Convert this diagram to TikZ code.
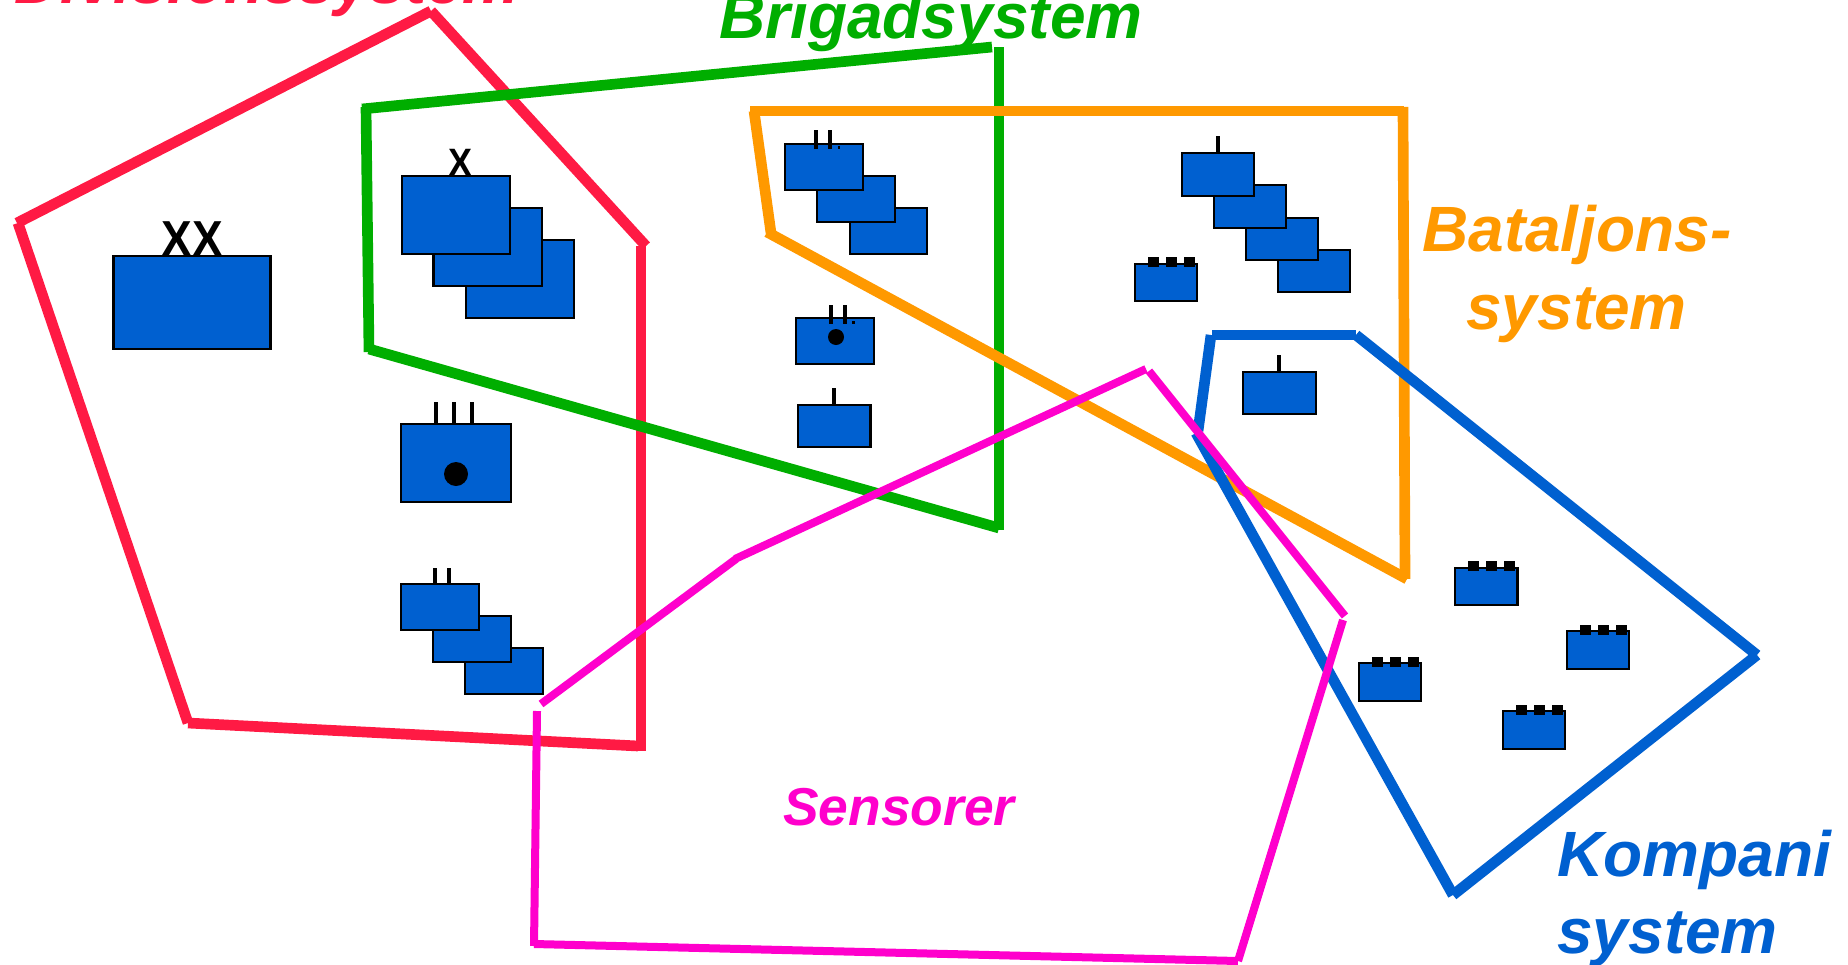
\documentclass[tikz,border=0pt]{standalone}
\usepackage{fontspec}
\setmainfont{Liberation Sans}
\definecolor{cred}{RGB}{255,26,68}
\definecolor{cgreen}{RGB}{0,174,0}
\definecolor{corange}{RGB}{255,153,0}
\definecolor{cblue}{RGB}{0,96,208}
\definecolor{cmag}{RGB}{255,0,204}
\tikzset{
  redline/.style={draw=cred,line width=8pt},
  greenline/.style={draw=cgreen,line width=8pt},
  orangeline/.style={draw=corange,line width=8pt},
  blueline/.style={draw=cblue,line width=8pt},
  magline/.style={draw=cmag,line width=6pt},
  unitbox/.style={draw=black,fill=cblue,line width=2pt},
  tick/.style={draw=black,line width=3.3pt},
  thintick/.style={draw=black,line width=2.8pt},
  notch/.style={fill=black},
  title/.style={anchor=base west,inner sep=0pt,font=\fontsize{48}{50}\selectfont\bfseries\itshape},
  rank/.style={anchor=base,inner sep=0pt,text=black},
}
\newcommand{\ubox}[4]{\path[unitbox] (#1,#2) rectangle (#3,#4);}
\newcommand{\usq}[2]{\path[notch] (#1-5.5,#2) rectangle (#1+5.5,#2+10);}
\begin{document}
\begin{tikzpicture}[x=0.75pt,y=-0.75pt]
\useasboundingbox (0,0) rectangle (1848,964);
\clip (0,0) rectangle (1848,964);
\fill[white] (0,0) rectangle (1848,964);
% titles
\node[title,text=cred] (tdiv) at (14,3) {Divisionssystem};
\node[title,text=cgreen] (tbri) at (719,38) {Brigadsystem};
\node[title,text=corange] (tbat1) at (1422,251) {Bataljons-};
\node[title,text=corange] (tbat2) at (1466,329) {system};
\node[title,text=cmag,font=\fontsize{40}{42}\selectfont\bfseries\itshape] (tsen) at (783,825) {Sensorer};
\node[title,text=cblue] (tkom1) at (1557,876) {Kompani};
\node[title,text=cblue] (tkom2) at (1557,953) {system};
\begin{scope}[yshift=-0.75pt]
% red
\draw[redline] (17,222) -- (431,10);
\draw[redline] (431,10) -- (646,245);
\draw[redline] (641,245) -- (641,750);
\draw[redline] (638,745) -- (188,722);
\draw[redline] (188,722) -- (18,222);
% green
\draw[greenline] (362,108) -- (992,46);
\draw[greenline] (999,46) -- (999,529);
\draw[greenline] (999,527) -- (369,348);
\draw[greenline] (369,351) -- (366,106);
% orange
\draw[orangeline] (750,110) -- (1404,110);
\draw[orangeline] (1403,106) -- (1405,578);
\draw[orangeline] (1407,578) -- (767,231);
\draw[orangeline] (771,232) -- (754,110);
% blue
\draw[blueline] (1212,334) -- (1356,334);
\draw[blueline] (1356,334) -- (1757,654);
\draw[blueline] (1757,654) -- (1453,894);
\draw[blueline] (1453,894) -- (1196,432);
\draw[blueline] (1198,430) -- (1211,334);
% magenta
\draw[magline] (541,703) -- (736,558);
\draw[magline] (735,558) -- (1146,368);
\draw[magline] (1149,370) -- (1345,615);
\draw[magline] (1343,619) -- (1238,960);
\draw[magline] (1238,960) -- (534,943);
\draw[magline] (534,945) -- (537,710);
% XX
\node[rank,font=\fontsize{34.5}{36}\selectfont\bfseries] (rxx) at (192,255) {\scalebox{1}[1.1]{XX}};
\ubox{113.5}{255}{270.5}{348}
% X stack
\node[rank,font=\fontsize{27}{28}\selectfont\bfseries] (rx) at (460,175) {\scalebox{1}[1.1]{X}};
\ubox{466}{239}{574}{317}
\ubox{433.5}{207}{542}{285}
\ubox{402}{175}{510}{253}
% III dot
\draw[tick] (436,401) -- (436,423) (454,401) -- (454,423) (472,401) -- (472,423);
\ubox{401}{423}{511}{501}
\fill[black] (456,473) circle[radius=12];
% II stack
\draw[thintick] (435,567) -- (435,583) (449,567) -- (449,583);
\ubox{465}{647}{543}{693}
\ubox{433}{615}{511}{661}
\ubox{401}{583}{479}{629}
% battalion stack
\ubox{850}{207}{927}{253}
\ubox{817}{175}{895}{221}
\ubox{785}{143}{863}{189}
\draw[thintick] (816,129) -- (816,148) (830,129) -- (830,148);
\fill[black] (838,145) rectangle (840,148);
% II dot
\ubox{796}{317}{874}{363}
\draw[thintick] (831,304) -- (831,323) (845,304) -- (845,323);
\fill[black] (852,320) rectangle (855,323);
\fill[black] (836,336) circle[radius=8];
% I box
\draw[thintick] (834,387) -- (834,404);
\ubox{798}{404}{870.5}{446}
% company stack
\ubox{1278}{249}{1350}{291}
\ubox{1246}{217}{1318}{259}
\ubox{1214}{184}{1286}{227}
\ubox{1182}{152}{1254}{195}
\draw[thintick] (1218,135) -- (1218,152);
% small box
\ubox{1135}{263}{1197}{300}
\usq{1153}{256}\usq{1171}{256}\usq{1189}{256}
% I box in blue
\draw[thintick] (1279,354) -- (1279,371);
\ubox{1243}{371}{1316}{413}
% platoons
\ubox{1455}{567}{1517.5}{604}
\usq{1473}{560}\usq{1491}{560}\usq{1509}{560}
\ubox{1567}{630}{1629}{668}
\usq{1585}{624}\usq{1603}{624}\usq{1621}{624}
\ubox{1359}{662}{1421}{700}
\usq{1377}{656}\usq{1395}{656}\usq{1413}{656}
\ubox{1503}{710}{1565}{748}
\usq{1521}{704}\usq{1539}{704}\usq{1557}{704}
\end{scope}
\end{tikzpicture}
\end{document}
